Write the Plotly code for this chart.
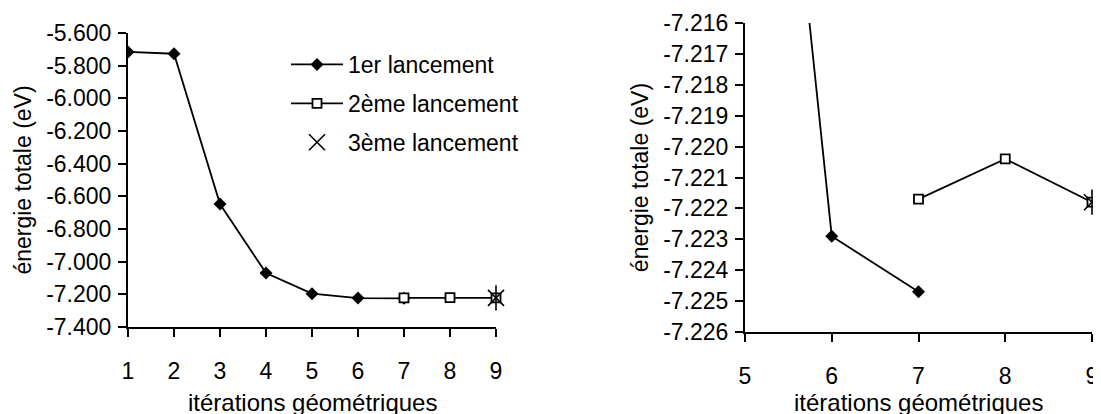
import plotly.graph_objects as go

# ---- data ----
iter_run1 = [1, 2, 3, 4, 5, 6, 7]
energy_run1 = [-5.716, -5.727, -6.647, -7.070, -7.196, -7.2229, -7.2247]
iter_run2 = [7, 8, 9]
energy_run2 = [-7.2217, -7.2204, -7.2218]
iter_run3 = [9]
energy_run3 = [-7.2218]

names = ["1er lancement", "2ème lancement", "3ème lancement"]
x_title = "itérations géométriques"
y_title = "énergie totale (eV)"

left_x_ticks = [1, 2, 3, 4, 5, 6, 7, 8, 9]
left_y_ticks = [-7.4, -7.2, -7.0, -6.8, -6.6, -6.4, -6.2, -6.0, -5.8, -5.6]
left_y_labels = ["-7.400", "-7.200", "-7.000", "-6.800", "-6.600", "-6.400",
                 "-6.200", "-6.000", "-5.800", "-5.600"]
right_x_ticks = [5, 6, 7, 8, 9]
right_y_ticks = [-7.226, -7.225, -7.224, -7.223, -7.222, -7.221, -7.220,
                 -7.219, -7.218, -7.217, -7.216]
right_y_labels = ["-7.226", "-7.225", "-7.224", "-7.223", "-7.222", "-7.221",
                  "-7.220", "-7.219", "-7.218", "-7.217", "-7.216"]

FONT = "Liberation Sans, Arial, sans-serif"
FS = 23
OFF = 8                      # page body margin
W, H = 1101 - OFF, 414 - OFF


def dx(px):
    return (px - OFF) / W


def dy(py):
    return 1 - (py - OFF) / H


fig = go.Figure()

line_style = dict(color="black", width=1.8)
for axis_suffix, show in (("", True), ("2", False)):
    xa, ya = "x" + axis_suffix, "y" + axis_suffix
    fig.add_trace(go.Scatter(
        x=iter_run1, y=energy_run1, mode="lines+markers", name=names[0],
        line=line_style, legendgroup="g1", showlegend=show,
        marker=dict(symbol="diamond", size=10, color="black"),
        xaxis=xa, yaxis=ya))
    fig.add_trace(go.Scatter(
        x=iter_run2, y=energy_run2, mode="lines+markers", name=names[1],
        line=line_style, legendgroup="g2", showlegend=show, cliponaxis=False,
        marker=dict(symbol="square", size=9, color="white",
                    line=dict(color="black", width=1.8)),
        xaxis=xa, yaxis=ya))
    fig.add_trace(go.Scatter(
        x=iter_run3, y=energy_run3, mode="markers", name=names[2],
        legendgroup="g3", showlegend=show, cliponaxis=False,
        marker=dict(symbol="x-thin-open", size=16, color="black",
                    line=dict(color="black", width=1.6)),
        xaxis=xa, yaxis=ya))
    fig.add_trace(go.Scatter(
        x=iter_run3, y=energy_run3, mode="markers", name=names[2],
        legendgroup="g3", showlegend=False, cliponaxis=False,
        marker=dict(symbol="line-ns-open", size=18, color="black",
                    line=dict(color="black", width=1.6)),
        xaxis=xa, yaxis=ya))

axis_common = dict(
    showgrid=False, zeroline=False, showline=True, linecolor="black",
    linewidth=2, ticks="outside", ticklen=8, tickwidth=2, tickcolor="black",
    tickfont=dict(family=FONT, size=FS, color="black"),
    automargin=False,
)

left_dom = [dx(128), dx(496)]
right_dom = [dx(745), dx(1092)]

fig.update_layout(
    width=W, height=H,
    margin=dict(l=0, r=0, t=0, b=0),
    paper_bgcolor="white", plot_bgcolor="white",
    font=dict(family=FONT, size=FS, color="black"),
    showlegend=True,
    legend=dict(x=dx(286), y=dy(43), xanchor="left", yanchor="top",
                bgcolor="rgba(0,0,0,0)", font=dict(family=FONT, size=FS),
                tracegroupgap=6, itemwidth=52),
    xaxis=dict(domain=left_dom, range=[1, 9],
               tickvals=left_x_ticks, ticklabelstandoff=14,
               anchor="y", **axis_common),
    yaxis=dict(domain=[dy(327), dy(33)], range=[-7.4, -5.6],
               tickvals=left_y_ticks, ticktext=left_y_labels,
               ticklabelstandoff=2,
               title=dict(text=y_title, standoff=8,
                          font=dict(family=FONT, size=FS)),
               anchor="x", **axis_common),
    xaxis2=dict(domain=right_dom, range=[5, 9],
                tickvals=right_x_ticks, ticklabelstandoff=14,
                anchor="y2", **axis_common),
    yaxis2=dict(domain=[dy(332), dy(23)], range=[-7.226, -7.216],
                tickvals=right_y_ticks, ticktext=right_y_labels,
                ticklabelstandoff=2,
                title=dict(text=y_title, standoff=8,
                           font=dict(family=FONT, size=FS)),
                anchor="x2", **axis_common),
)

for dom in (left_dom, right_dom):
    fig.add_annotation(
        text=x_title, xref="paper", yref="paper",
        x=(dom[0] + dom[1]) / 2, y=dy(387), xanchor="center", yanchor="top",
        showarrow=False, font=dict(family=FONT, size=24, color="black"))

fig.write_html("out.html")
